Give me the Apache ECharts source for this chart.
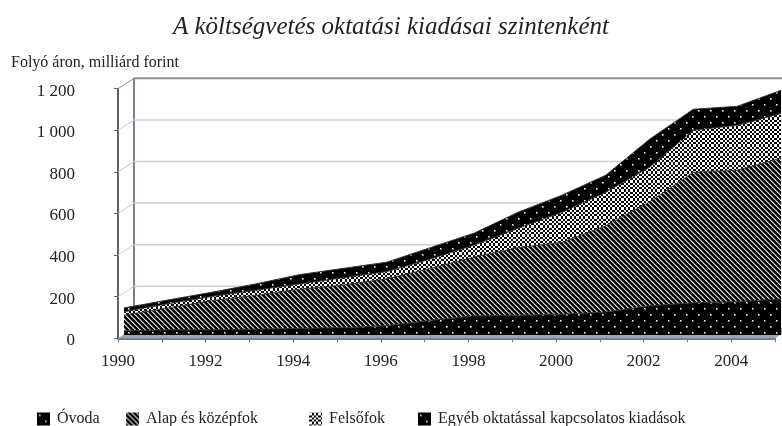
<!DOCTYPE html>
<html>
<head>
<meta charset="utf-8">
<style>
    html, body { margin: 0; padding: 0; background: #fff; }
    #chart { width: 782px; height: 426px; }
</style>
<script src="https://cdn.jsdelivr.net/npm/echarts@6/dist/echarts.min.js"></script>
</head>
<body>
<div id="chart"></div>
<script>
    const years = [1990, 1991, 1992, 1993, 1994, 1995, 1996, 1997, 1998, 1999, 2000, 2001, 2002, 2003, 2004, 2005];
    const ovoda = [20, 25, 25, 28, 32, 35, 45, 70, 92, 95, 100, 110, 140, 155, 160, 173];
    const alap = [75, 105, 140, 162, 188, 205, 225, 250, 283, 325, 345, 415, 500, 627, 632, 677];
    const felso = [17, 20, 20, 25, 25, 35, 35, 45, 58, 93, 145, 161, 166, 202, 216, 215];
    const egyeb = [18, 18, 20, 30, 45, 45, 45, 55, 57, 77, 82, 82, 135, 101, 91, 111];
    const yTicks = [0, 200, 400, 600, 800, 1000, 1200];

    const serif = '"Liberation Serif", serif';
    const textColor = '#222';
    const depth = [16, -10.4];

    // small tiles for the black and white fills
    function tile(w, h, paint) {
        const c = document.createElement('canvas');
        c.width = w;
        c.height = h;
        const ctx = c.getContext('2d');
        ctx.fillStyle = '#000';
        ctx.fillRect(0, 0, w, h);
        paint(ctx);
        return {image: c, repeat: 'repeat'};
    }
    const dots = tile(12, 12, ctx => {
        ctx.fillStyle = '#777';
        ctx.fillRect(2, 2, 2, 2);
        ctx.fillRect(8, 8, 2, 2);
        ctx.fillStyle = '#fff';
        ctx.fillRect(2, 2, 1, 1);
        ctx.fillRect(8, 8, 1, 1);
    });
    const stripes = tile(10, 10, ctx => {
        for (let y = 0; y < 10; y++) {
            for (let x = 0; x < 10; x++) {
                const d = (x - y + 10) % 5;
                if (d === 0) {
                    ctx.fillStyle = '#d0d0d0';
                    ctx.fillRect(x, y, 1, 1);
                } else if (d === 1) {
                    ctx.fillStyle = '#808080';
                    ctx.fillRect(x, y, 1, 1);
                }
            }
        }
    });
    const checks = tile(9, 9, ctx => {
        ctx.fillStyle = '#fff';
        for (let y = 0; y < 9; y++) {
            for (let x = 0; x < 9; x++) {
                if ((Math.floor(x / 2.25) + Math.floor(y / 2.25)) % 2 === 0) {
                    ctx.fillRect(x, y, 1, 1);
                }
            }
        }
    });

    function areaSeries(name, values, fill) {
        return {
            name: name,
            type: 'line',
            stack: 'total',
            xAxisIndex: 1,
            yAxisIndex: 1,
            z: 3,
            symbol: 'none',
            data: values,
            lineStyle: {color: '#333', width: 1},
            itemStyle: {color: fill},
            areaStyle: {color: fill, opacity: 1}
        };
    }

    function legendItem(name, left) {
        return {
            data: [name],
            left: left,
            top: 411,
            icon: 'rect',
            itemWidth: 13,
            itemHeight: 13,
            itemGap: 0,
            padding: 0,
            selectedMode: false,
            textStyle: {fontFamily: serif, fontSize: 16, color: textColor, padding: [0, 0, 0, 2]}
        };
    }

    // floor, back wall and the slanted side lines of the 3D frame
    function renderFrame(params, api) {
        const shift = p => [p[0] + depth[0], p[1] + depth[1]];
        const line = (a, b, color, width) => ({
            type: 'line',
            shape: {x1: a[0], y1: a[1], x2: b[0], y2: b[1]},
            style: {stroke: color, lineWidth: width}
        });
        const v = api.value(0);
        const a = api.coord([years[0], v]);
        const b = api.coord([years[years.length - 1], v]);
        const parts = [];
        if (v === 0) {
            parts.push({
                type: 'polygon',
                shape: {points: [a, b, shift(b), shift(a)]},
                style: {fill: '#9aa5b1'}
            });
            parts.push(line(shift(a), [shift(a)[0], api.coord([years[0], 1200])[1] + depth[1]], '#76828e', 2));
        } else {
            parts.push(line(a, shift(a), v === 1200 ? '#8a95a3' : '#c6cad2', 1));
            parts.push(line(shift(a), shift(b), v === 1200 ? '#8a95a3' : '#ccd0d8', v === 1200 ? 2 : 1.5));
        }
        return {type: 'group', children: parts};
    }

    const chart = echarts.init(document.getElementById('chart'));
    chart.setOption({
        animation: false,
        backgroundColor: '#fff',
        title: [
            {
                text: 'A költségvetés oktatási kiadásai szintenként',
                left: 391,
                top: 15,
                padding: 0,
                textAlign: 'center',
                textStyle: {fontFamily: serif, fontSize: 25, fontStyle: 'italic', fontWeight: 'normal', color: textColor}
            },
            {
                text: 'Folyó áron, milliárd forint',
                left: 11,
                top: 55,
                padding: 0,
                textStyle: {fontFamily: serif, fontSize: 16, fontWeight: 'normal', color: textColor}
            }
        ],
        legend: [
            legendItem('Óvoda', 37),
            legendItem('Alap és középfok', 126),
            legendItem('Felsőfok', 309),
            legendItem('Egyéb oktatással kapcsolatos kiadások', 418)
        ],
        grid: [
            {left: 118, width: 657, top: 88.7, height: 249.6},
            {left: 124, width: 657, top: 85.3, height: 249.7}
        ],
        xAxis: [
            {
                type: 'value',
                gridIndex: 0,
                min: 1990,
                max: 2005,
                interval: 1,
                splitLine: {show: false},
                axisLine: {lineStyle: {color: '#6f7c88', width: 2}},
                axisTick: {length: 4, lineStyle: {color: '#6f7c88'}},
                axisLabel: {
                    margin: 15,
                    color: textColor,
                    fontFamily: serif,
                    fontSize: 17,
                    formatter: v => (v % 2 === 0 ? String(v) : '')
                }
            },
            {type: 'category', gridIndex: 1, data: years, boundaryGap: false, show: false}
        ],
        yAxis: [
            {
                type: 'value',
                gridIndex: 0,
                min: 0,
                max: 1200,
                interval: 200,
                splitLine: {show: false},
                axisLine: {show: true, lineStyle: {color: '#59636d', width: 2}},
                axisTick: {show: true, length: 4, lineStyle: {color: '#59636d'}},
                axisLabel: {
                    margin: 43,
                    verticalAlign: 'top',
                    padding: [-6, 0, 0, 0],
                    color: textColor,
                    fontFamily: serif,
                    fontSize: 17,
                    formatter: v => (v >= 1000 ? Math.floor(v / 1000) + ' ' + String(v % 1000).padStart(3, '0') : String(v))
                }
            },
            {type: 'value', gridIndex: 1, min: 0, max: 1200, show: false, splitLine: {show: false}}
        ],
        series: [
            {
                type: 'custom',
                xAxisIndex: 0,
                yAxisIndex: 0,
                z: 1,
                clip: false,
                silent: true,
                renderItem: renderFrame,
                encode: {x: -1, y: 0},
                data: yTicks.map(v => [v])
            },
            areaSeries('Óvoda', ovoda, dots),
            areaSeries('Alap és középfok', alap, stripes),
            areaSeries('Felsőfok', felso, checks),
            areaSeries('Egyéb oktatással kapcsolatos kiadások', egyeb, dots)
        ]
    });
</script>
</body>
</html>
